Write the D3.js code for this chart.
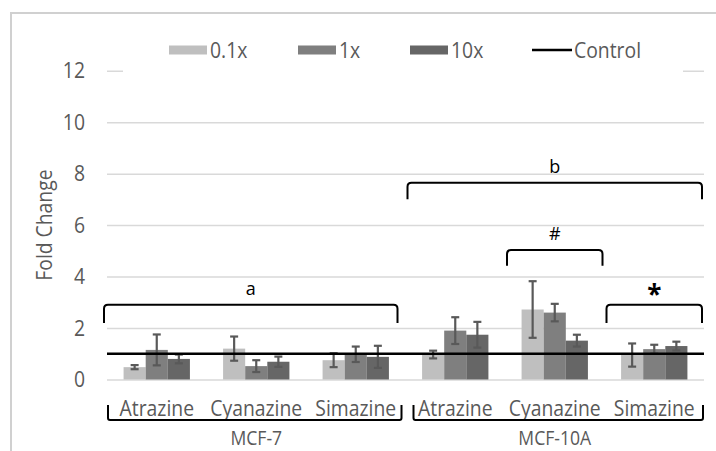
<!DOCTYPE html>
<html>
<head>
<meta charset="utf-8">
<script src="https://cdn.jsdelivr.net/npm/d3@7"></script>
<style>
  body { margin: 0; background: #fff; }
  svg { display: block; }
  .tick text, .labelText { font-family: 'Open Sans', sans-serif; fill: #595959; }
  .note { font-family: 'Open Sans', sans-serif; fill: #000; }
</style>
</head>
<body>
<svg id="chart"></svg>
<script>
// data
const cellLines = ['MCF-7', 'MCF-10A'];
const chemicals = ['Atrazine', 'Cyanazine', 'Simazine'];
const doses = ['0.1x', '1x', '10x'];
const dose01 = [0.48, 1.2, 0.75, 0.97, 2.72, 0.95];
const dose1 = [1.15, 0.52, 0.98, 1.9, 2.6, 1.18];
const dose10 = [0.8, 0.69, 0.88, 1.74, 1.51, 1.3];
const err01 = [0.08, 0.47, 0.27, 0.15, 1.1, 0.45];
const err1 = [0.6, 0.23, 0.3, 0.52, 0.34, 0.17];
const err10 = [0.17, 0.2, 0.43, 0.5, 0.23, 0.17];
const controlValue = 1;
const yTicks = [0, 2, 4, 6, 8, 10, 12];
// significance brackets: first/last category, bracket top, leg bottom, label
const brackets = [
  { from: 0, to: 2, top: 2.9, bottom: 2.2, label: 'a' },
  { from: 3, to: 5, top: 7.65, bottom: 7.0, label: 'b' },
  { from: 4, to: 4, top: 5.03, bottom: 4.42, label: '#' },
  { from: 5, to: 5, top: 2.9, bottom: 2.2, label: '*' }
];

const width = 716;
const height = 451;
const plotLeft = 107, plotRight = 704, plotTop = 70.7, plotBottom = 379.5;
const colors = ['#bfbfbf', '#7f7f7f', '#666666'];
const squeeze = 0.88; // the original font is tall and narrow

const categories = cellLines.flatMap(c => chemicals.map(ch => `${c}|${ch}`));
const values = [dose01, dose1, dose10];
const errors = [err01, err1, err10];

const svg = d3.select('#chart')
  .attr('width', width)
  .attr('height', height);

// text that is a little narrower than the font draws it
function tallText(parent, tx, ty, str, size, anchor) {
  return parent.append('text')
    .attr('class', 'labelText')
    .attr('transform', `translate(${tx},${ty}) scale(${squeeze},1)`)
    .attr('text-anchor', anchor || 'start')
    .attr('font-size', size)
    .text(str);
}

// outer frame (runs off the picture on the right and bottom)
svg.append('rect')
  .attr('x', 11).attr('y', 13)
  .attr('width', 800).attr('height', 600)
  .attr('fill', 'none')
  .attr('stroke', '#d0d0d0')
  .attr('stroke-width', 2);

const x = d3.scaleBand()
  .domain(categories)
  .range([plotLeft, plotRight]);

const bw = x.bandwidth();
const xs = d3.scaleBand()
  .domain(doses)
  .range([bw / 6, bw * 5 / 6]);

const y = d3.scaleLinear()
  .domain([0, 12])
  .range([plotBottom, plotTop]);

// gridlines + tick labels
const yAxis = svg.append('g')
  .attr('transform', `translate(${plotLeft},0)`)
  .call(d3.axisLeft(y).tickValues(yTicks).tickSize(-(plotRight - plotLeft)).tickPadding(22));
yAxis.select('.domain').remove();
yAxis.selectAll('.tick line')
  .attr('stroke', '#d9d9d9')
  .attr('stroke-width', 1.5);
yAxis.selectAll('.tick text')
  .attr('font-size', 22)
  .attr('x', -22 / squeeze)
  .attr('transform', `scale(${squeeze},1)`);

svg.append('text')
  .attr('class', 'labelText')
  .attr('transform', `translate(52, ${(plotTop + plotBottom) / 2}) rotate(-90) scale(0.92,1)`)
  .attr('text-anchor', 'middle')
  .attr('font-size', 21)
  .text('Fold Change');

// bars
const groups = svg.append('g')
  .selectAll('g')
  .data(doses)
  .join('g')
  .attr('fill', (d, i) => colors[i]);

groups.selectAll('rect')
  .data((d, i) => values[i].map((v, j) => ({ dose: d, cat: categories[j], v })))
  .join('rect')
  .attr('x', d => x(d.cat) + xs(d.dose))
  .attr('y', d => y(d.v))
  .attr('width', xs.bandwidth())
  .attr('height', d => y(0) - y(d.v));

// error bars
const errG = svg.append('g')
  .attr('stroke', '#595959')
  .attr('stroke-width', 2.2)
  .attr('fill', 'none');

doses.forEach((dose, i) => {
  values[i].forEach((v, j) => {
    const cx = x(categories[j]) + xs(dose) + xs.bandwidth() / 2;
    const e = errors[i][j];
    errG.append('line')
      .attr('x1', cx).attr('x2', cx)
      .attr('y1', y(v + e)).attr('y2', y(v - e));
    [v + e, v - e].forEach(t => {
      errG.append('line')
        .attr('x1', cx - 4).attr('x2', cx + 4)
        .attr('y1', y(t)).attr('y2', y(t));
    });
  });
});

// control line
svg.append('line')
  .attr('x1', plotLeft).attr('x2', plotRight)
  .attr('y1', y(controlValue)).attr('y2', y(controlValue))
  .attr('stroke', '#000')
  .attr('stroke-width', 2.6);

// legend
svg.append('rect')
  .attr('x', 123).attr('y', 32)
  .attr('width', 560).attr('height', 44)
  .attr('fill', '#fff');

const legendX = [169, 298, 410];
doses.forEach((d, i) => {
  svg.append('rect')
    .attr('x', legendX[i]).attr('y', 45.5)
    .attr('width', 38).attr('height', 9)
    .attr('fill', colors[i]);
  tallText(svg, legendX[i] + 41, 57.5, d, 22);
});
svg.append('line')
  .attr('x1', 532).attr('x2', 572)
  .attr('y1', 50).attr('y2', 50)
  .attr('stroke', '#000')
  .attr('stroke-width', 2.6);
tallText(svg, 574, 57.5, 'Control', 22);

// significance brackets
function bracketPath(x0, x1, yTop, yBot, r) {
  return `M${x0},${yBot} L${x0},${yTop + r} Q${x0},${yTop} ${x0 + r},${yTop}` +
    ` L${x1 - r},${yTop} Q${x1},${yTop} ${x1},${yTop + r} L${x1},${yBot}`;
}

brackets.forEach(b => {
  const x0 = x(categories[b.from]) + (b.from === 0 ? -3 : 2);
  const x1 = x(categories[b.to]) + bw - (b.from === 0 ? 8 : 2);
  svg.append('path')
    .attr('d', bracketPath(x0, x1, y(b.top), y(b.bottom), 4))
    .attr('fill', 'none')
    .attr('stroke', '#000')
    .attr('stroke-width', 2);
  svg.append('text')
    .attr('class', 'note')
    .attr('x', (x0 + x1) / 2)
    .attr('y', b.label === '*' ? y(b.top) - 1 : y(b.top) - 10)
    .attr('text-anchor', 'middle')
    .attr('font-size', b.label === '*' ? 26 : 18)
    .attr('font-weight', b.label === '*' ? 'bold' : 'normal')
    .text(b.label);
});

// category labels
const catG = svg.append('g');
categories.forEach(c => {
  tallText(catG, x(c) + bw / 2, 416, c.split('|')[1], 22, 'middle');
});

// cell line brackets underneath
cellLines.forEach((c, i) => {
  const first = categories[i * chemicals.length];
  const last = categories[i * chemicals.length + chemicals.length - 1];
  const x0 = x(first) + (i === 0 ? 1 : 8);
  const x1 = x(last) + bw - (i === 0 ? 4 : 1);
  svg.append('path')
    .attr('d', `M${x0},405 L${x0},418 Q${x0},420 ${x0 + 2},420 L${x1 - 2},420 Q${x1},420 ${x1},418 L${x1},405`)
    .attr('fill', 'none')
    .attr('stroke', '#000')
    .attr('stroke-width', 2);
  tallText(svg, (x(first) + x(last) + bw) / 2, 445, c, 20, 'middle');
});
</script>
</body>
</html>
